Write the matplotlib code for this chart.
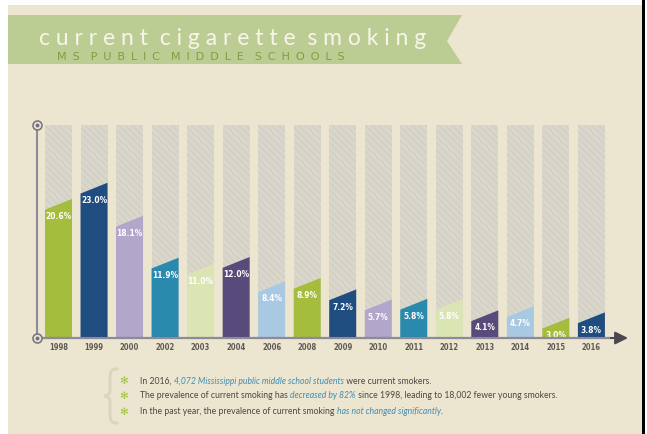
import matplotlib
matplotlib.use("Agg")
import matplotlib.pyplot as plt
from matplotlib.patches import Polygon, Rectangle, PathPatch
from matplotlib.path import Path

years = ["1998", "1999", "2000", "2002", "2003", "2004", "2006", "2008",
         "2009", "2010", "2011", "2012", "2013", "2014", "2015", "2016"]
values = [20.6, 23.0, 18.1, 11.9, 11.0, 12.0, 8.4, 8.9,
          7.2, 5.7, 5.8, 5.8, 4.1, 4.7, 3.0, 3.8]
palette = ["#a4bd3d", "#1f4d80", "#b2a6ca", "#2a8aad", "#dbe5b4", "#584b7c",
           "#a9c9e3", "#a4bd3d", "#1f4d80", "#b2a6ca", "#2a8aad", "#dbe5b4",
           "#584b7c", "#a9c9e3", "#a4bd3d", "#1f4d80"]

title = "current cigarette smoking"
subtitle = "MS PUBLIC MIDDLE SCHOOLS"
notes = [
    [("In 2016, ", False), ("4,072 Mississippi public middle school students", True),
     (" were current smokers.", False)],
    [("The prevalence of current smoking has ", False), ("decreased by 82%", True),
     (" since 1998, leading to 18,002 fewer young smokers.", False)],
    [("In the past year, the prevalence of current smoking ", False),
     ("has not changed significantly", True), (".", False)],
]

W, H = 647, 434
BEIGE = "#ece5d0"
AXIS = "#8e8a9b"
SCALE_MAX = 31.55   # height of the grey background bars, in %
SLANT = 1.6         # drop of the bar top from right to left, in %


def fx(x):
    return x / W


def fy(y):
    return 1 - y / H


def spaced(s, gap=" ", word_gap="  "):
    return word_gap.join(gap.join(w) for w in s.split(" "))


plt.rcParams["hatch.linewidth"] = 0.45
fig = plt.figure(figsize=(W / 100, H / 100), dpi=100, facecolor="white")

# page background, frame
fig.patches.append(Rectangle((fx(8), 0), fx(634), fy(5), transform=fig.transFigure,
                             facecolor=BEIGE, edgecolor="none", zorder=-5))
fig.patches.append(Rectangle((fx(642), 0), fx(3), 1, transform=fig.transFigure,
                             facecolor="black", edgecolor="none", zorder=-4))

# title ribbon
ribbon = [(8, 15), (462, 15), (447, 41), (462, 64), (8, 64)]
fig.patches.append(Polygon([(fx(x), fy(y)) for x, y in ribbon], closed=True,
                           transform=fig.transFigure, facecolor="#bccd93",
                           edgecolor="none", zorder=-3))
fig.text(fx(39), fy(45), spaced(title), fontsize=16.5, family="Lato",
         color="#f7f5ea", va="baseline", ha="left")
fig.text(fx(57), fy(60.5), spaced(subtitle, " \u2009", "   "), fontsize=8.1,
         family="DejaVu Sans", color="#8a9a3e", va="baseline", ha="left")

# chart
ax = fig.add_axes([fx(37), fy(338), fx(628 - 37), (338 - 120) / H])
ax.set_facecolor("none")
ax.set_xlim(-0.605, 16.03)
ax.set_ylim(0, 218 / 6.75)
ax.axis("off")

x = list(range(len(years)))
bw = 0.76
ax.bar(x, [SCALE_MAX] * len(x), width=bw, color="#d9d6cc", edgecolor="#cdc8bb",
       hatch="\\\\\\\\\\", linewidth=0, zorder=1)
for i, v in enumerate(values):
    xl, xr = i - bw / 2, i + bw / 2
    ax.fill([xl, xl, xr, xr], [0, v - SLANT, v, 0], color=palette[i], lw=0, zorder=2)
    ax.text(i, v - SLANT - 0.35, f"{v:.1f}%", ha="center", va="top", color="white",
            fontsize=6, family="DejaVu Sans", fontstretch="condensed",
            fontweight="bold", zorder=3)
    ax.text(i, -1.35, years[i], ha="center", va="center", color="#5f5a55",
            fontsize=5.5, family="DejaVu Sans", fontstretch="condensed",
            fontweight="bold", clip_on=False)

x0 = ax.get_xlim()[0]
ax.plot([x0, x0], [0, SCALE_MAX], color=AXIS, lw=1.5, zorder=4, clip_on=False)
ax.annotate("", xy=(16.03, 0), xytext=(x0, 0), zorder=4, annotation_clip=False,
            arrowprops=dict(arrowstyle="-|>", color="#4a4752", lw=1.5,
                            mutation_scale=19, shrinkA=0, shrinkB=0))
ax.plot([x0, 15.5], [0, 0], color=AXIS, lw=1.5, zorder=5, clip_on=False)
ax.plot([x0, x0], [0, SCALE_MAX], ls="none", marker="o", ms=6.5, mfc=BEIGE,
        mec="#75707f", mew=1.1, zorder=6, clip_on=False)
ax.plot([x0, x0], [0, SCALE_MAX], ls="none", marker="o", ms=1.8, color="#75707f",
        zorder=7, clip_on=False)

# notes
ov = fig.add_axes([0, 0, 1, 1])
ov.axis("off")
ov.set_xlim(0, W)
ov.set_ylim(H, 0)
brace = [(117, 369), (111, 369), (110, 372), (110, 378), (110, 390),
         (110, 394), (108, 396), (104, 396), (108, 396), (110, 398), (110, 402),
         (110, 414), (110, 420), (111, 423), (117, 423)]
codes = [Path.MOVETO, Path.CURVE4, Path.CURVE4, Path.CURVE4, Path.LINETO,
         Path.CURVE4, Path.CURVE4, Path.CURVE4, Path.CURVE4, Path.CURVE4, Path.CURVE4,
         Path.LINETO, Path.CURVE4, Path.CURVE4, Path.CURVE4]
ov.add_patch(PathPatch(Path(brace, codes), facecolor="none", edgecolor="#ddd4bb",
                       lw=2.2, capstyle="round"))
for row, y in zip(notes, [381, 396, 412]):
    ov.text(124, y, "\u273B", fontsize=7.5, color="#9fc03a",
            family="DejaVu Sans", ha="center", va="center")
    prev = None
    for piece, hl in row:
        kw = dict(fontsize=6.25, family="Lato", color="#3d8fb6" if hl else "#4a4845",
                  style="italic" if hl else "normal", va="center", ha="left")
        if prev is None:
            prev = ov.text(140, y, piece, **kw)
        else:
            prev = ov.annotate(piece, xy=(1, 0.5), xycoords=prev, **kw)

fig.savefig("out.png", dpi=100, facecolor=fig.get_facecolor())
